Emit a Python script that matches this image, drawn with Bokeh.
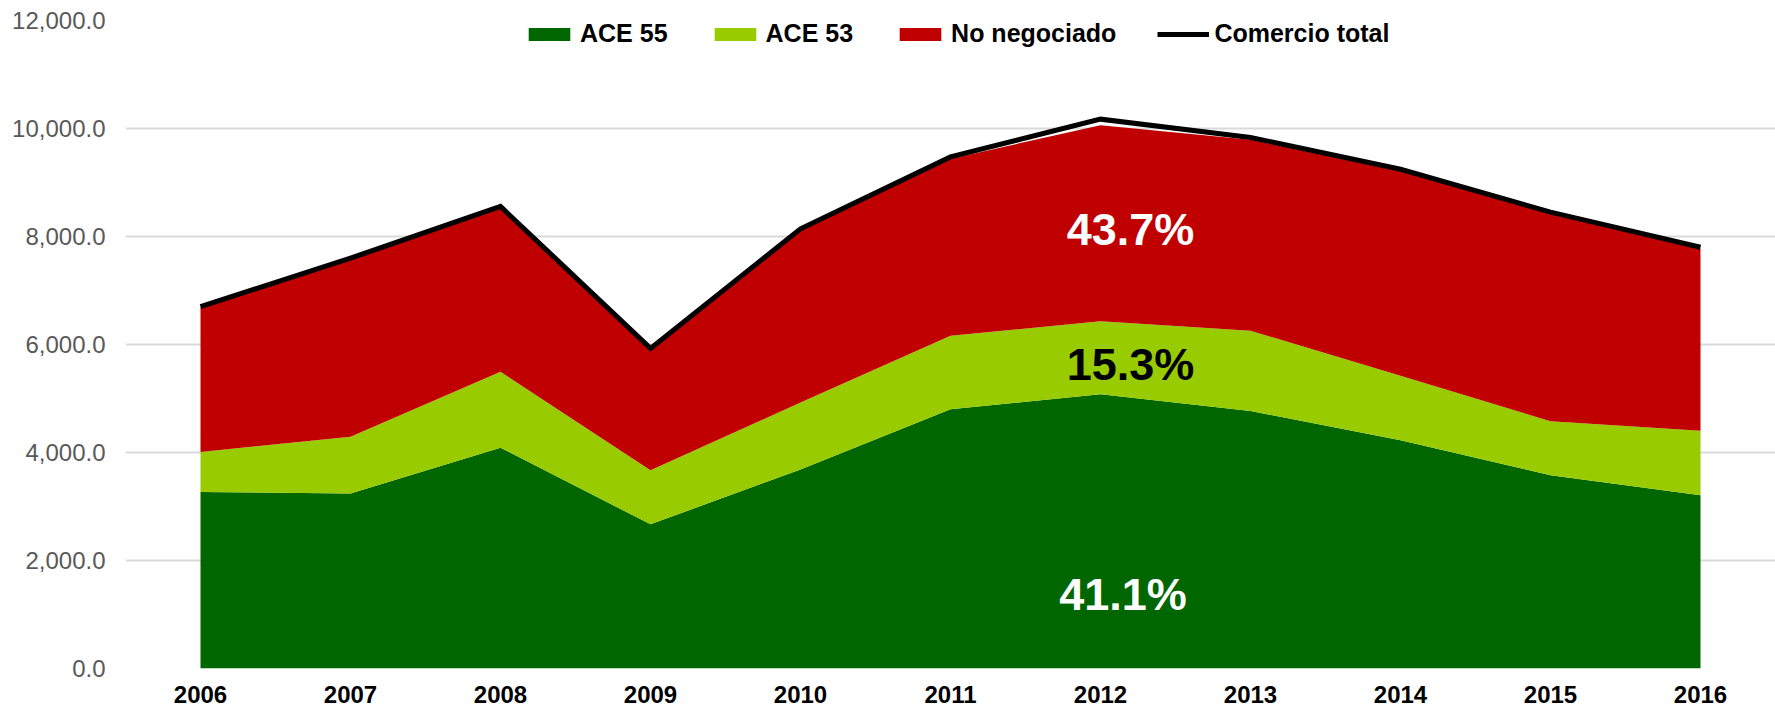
from bokeh.plotting import figure
from bokeh.models import ColumnDataSource, FixedTicker, NumeralTickFormatter, Legend, Range1d
from bokeh.core.properties import value
from bokeh.embed import file_html
from bokeh.resources import INLINE

# ---- data ----
years = [2006, 2007, 2008, 2009, 2010, 2011, 2012, 2013, 2014, 2015, 2016]
ace55 = [3270, 3240, 4090, 2670, 3685, 4800, 5080, 4770, 4225, 3580, 3207]
ace53 = [740, 1050, 1405, 1000, 1240, 1360, 1350, 1485, 1195, 1000, 1194]
no_negociado = [2680, 3290, 3045, 2240, 3195, 3280, 3630, 3535, 3790, 3840, 3370]
comercio_total = [6702, 7598, 8556, 5929, 8142, 9474, 10173, 9833, 9245, 8452, 7802]

series_names = ["ACE 55", "ACE 53", "No negociado"]
series_colors = ["#006600", "#99CC00", "#C00000"]
total_name = "Comercio total"

share_labels = ["41.1%", "15.3%", "43.7%"]
share_label_x = [2012.15, 2012.2, 2012.2]
share_label_y = [1372, 5635, 8137]
share_label_colors = ["#FFFFFF", "#000000", "#FFFFFF"]

y_ticks = [0, 2000, 4000, 6000, 8000, 10000, 12000]

src = ColumnDataSource(dict(year=years, ace55=ace55, ace53=ace53, nn=no_negociado, total=comercio_total))

p = figure(width=1775, height=714, output_backend="svg", toolbar_location=None,
           x_range=Range1d(2005.5, 2016.5), y_range=Range1d(0, 12000),
           min_border_left=125, min_border_right=0, min_border_top=20, min_border_bottom=46)
p.outline_line_color = None
p.background_fill_color = "white"

areas = p.varea_stack(["ace55", "ace53", "nn"], x="year", color=series_colors, source=src)
line = p.line("year", "total", source=src, line_color="black", line_width=5, line_join="miter")

lbl_src = ColumnDataSource(dict(x=share_label_x, y=share_label_y, t=share_labels, c=share_label_colors))
p.text("x", "y", text="t", source=lbl_src, text_color="c", text_align="center", text_baseline="middle",
       text_font=value("Liberation Sans"), text_font_style="bold", text_font_size="45px")

# grid
p.xgrid.visible = False
p.ygrid.ticker = FixedTicker(ticks=y_ticks)
p.ygrid.grid_line_color = "#D9D9D9"
p.ygrid.grid_line_width = 2

# x axis
xa = p.xaxis[0]
xa.ticker = FixedTicker(ticks=years)
xa.axis_line_color = None
xa.major_tick_line_color = None
xa.minor_tick_line_color = None
xa.major_tick_out = 0
xa.major_label_text_font = "Liberation Sans"
xa.major_label_text_font_style = "bold"
xa.major_label_text_font_size = "24px"
xa.major_label_text_color = "black"
xa.major_label_standoff = 17

# y axis
ya = p.yaxis[0]
ya.ticker = FixedTicker(ticks=y_ticks)
ya.formatter = NumeralTickFormatter(format="0,0.0")
ya.axis_line_color = None
ya.major_tick_line_color = None
ya.minor_tick_line_color = None
ya.major_tick_out = 0
ya.major_label_text_font = "Liberation Sans"
ya.major_label_text_font_size = "24px"
ya.major_label_text_color = "#595959"
ya.major_label_standoff = 20

legend = Legend(items=[(series_names[0], [areas[0]]), (series_names[1], [areas[1]]),
                       (series_names[2], [areas[2]]), (total_name, [line])],
                orientation="horizontal", location=(398, 620),
                padding=0, margin=0, spacing=41, label_standoff=5,
                glyph_width=52, glyph_height=16,
                label_text_font="Liberation Sans", label_text_font_style="bold",
                label_text_font_size="25px", label_text_color="black",
                background_fill_alpha=0, border_line_alpha=0)
p.add_layout(legend)

open("out.html", "w").write(file_html(p, INLINE))
